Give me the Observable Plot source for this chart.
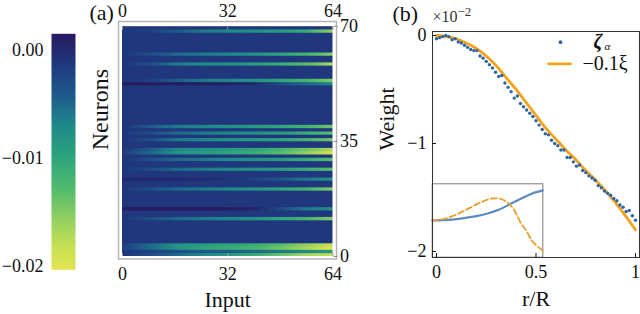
<!DOCTYPE html>
<html><head><meta charset="utf-8">
<script src="https://cdn.jsdelivr.net/npm/d3@7"></script>
<script src="https://cdn.jsdelivr.net/npm/@observablehq/plot@0.6"></script>
<style>
html,body{margin:0;padding:0;background:#fff;}
#wrap{position:relative;width:640px;height:314px;overflow:hidden;background:#fff;}
#wrap svg{position:absolute;left:0;top:0;}
</style></head><body><div id="wrap"></div>
<script>
// ---------- Panel (a): colour scale ----------
const colorValues = [-0.0203, -0.018, -0.015, -0.0125, -0.0095, -0.007, -0.0045, -0.0015, 0.0015];
const colorHexes  = ["#e4e44f", "#c4df55", "#84cc63", "#4cb96e", "#2aa07f", "#1f8a8a", "#1e5f8c", "#1f3a80", "#271a5e"];
const colorbarTicks = [0, -0.01, -0.02];

// ---------- Panel (a): heatmap (weights per neuron, sampled at input knots) ----------
const inputTicks = [0, 32, 64];
const neuronTicks = [0, 35, 70];
const nNeurons = 70;
const knotInputs = [0, 8, 16, 24, 32, 40, 48, 56, 64];
const baseWeight = -0.0012;
const stripeRows = [68, 61, 58, 53, 52, 39, 37, 35, 32, 31, 29, 26, 23, 20, 14, 11, 3, 2, 1, 0];
const stripeProfiles = [
  [-0.0012, -0.002, -0.004, -0.006, -0.007, -0.008, -0.009, -0.011, -0.016],
  [-0.0012, -0.003, -0.005, -0.006, -0.007, -0.008, -0.010, -0.012, -0.015],
  [-0.0012, -0.003, -0.006, -0.007, -0.008, -0.009, -0.011, -0.013, -0.017],
  [-0.0012, -0.002, -0.004, -0.006, -0.007, -0.008, -0.010, -0.012, -0.015],
  [0.0012, 0.0012, 0.0012, 0.0010, 0.0008, 0.0000, -0.003, -0.005, -0.007],
  [-0.0012, -0.004, -0.006, -0.007, -0.008, -0.009, -0.010, -0.012, -0.014],
  [-0.0012, -0.003, -0.005, -0.006, -0.007, -0.008, -0.009, -0.011, -0.013],
  [-0.0012, -0.003, -0.006, -0.007, -0.008, -0.009, -0.010, -0.012, -0.014],
  [-0.0012, -0.004, -0.007, -0.008, -0.009, -0.010, -0.012, -0.014, -0.017],
  [-0.002, -0.005, -0.008, -0.009, -0.010, -0.011, -0.013, -0.016, -0.020],
  [-0.0012, -0.003, -0.005, -0.006, -0.007, -0.008, -0.009, -0.011, -0.013],
  [-0.0012, -0.003, -0.005, -0.006, -0.007, -0.008, -0.009, -0.011, -0.013],
  [0.0003, 0.0003, 0.0002, 0.0000, -0.001, -0.002, -0.004, -0.006, -0.008],
  [-0.0012, -0.003, -0.005, -0.006, -0.007, -0.008, -0.010, -0.012, -0.015],
  [0.0012, 0.0012, 0.0014, 0.0014, 0.0012, 0.0005, -0.003, -0.006, -0.008],
  [-0.0012, -0.003, -0.005, -0.006, -0.007, -0.008, -0.010, -0.012, -0.015],
  [-0.002, -0.005, -0.008, -0.009, -0.010, -0.011, -0.013, -0.016, -0.019],
  [-0.002, -0.005, -0.008, -0.010, -0.011, -0.012, -0.014, -0.017, -0.020],
  [-0.0012, -0.002, -0.003, -0.004, -0.004, -0.005, -0.006, -0.007, -0.009],
  [-0.001, -0.003, -0.005, -0.007, -0.009, -0.011, -0.014, -0.017, -0.018]
];

// ---------- Panel (b): main curves ----------
const rTicks = [0, 0.5, 1];
const weightTicks = [0, -1, -2];
const xiR = [0, 0.05, 0.1, 0.15, 0.2, 0.25, 0.3, 0.35, 0.4, 0.45, 0.5, 0.55, 0.6, 0.65, 0.7, 0.75, 0.8, 0.85, 0.9, 0.95, 1.0];
const xiW = [0, -0.01, -0.03, -0.07, -0.12, -0.19, -0.28, -0.39, -0.50, -0.62, -0.74, -0.86, -0.96, -1.06, -1.15, -1.25, -1.34, -1.44, -1.55, -1.67, -1.80];
const zetaW = [-0.03, -0.02, -0.01, 0.00, -0.01, -0.04, -0.03, -0.06, -0.07, -0.09, -0.11, -0.13, -0.14, -0.14, -0.19, -0.21,
  -0.24, -0.27, -0.30, -0.34, -0.38, -0.37, -0.44, -0.48, -0.52, -0.58, -0.56, -0.63, -0.66, -0.69, -0.72, -0.75,
  -0.79, -0.83, -0.87, -0.91, -0.92, -0.97, -1.00, -1.02, -1.06, -1.06, -1.13, -1.13, -1.17, -1.21, -1.20, -1.25,
  -1.27, -1.30, -1.32, -1.34, -1.39, -1.41, -1.44, -1.46, -1.48, -1.51, -1.53, -1.57, -1.59, -1.63, -1.62, -1.67, -1.71];

// ---------- Panel (b): inset ----------
const insetR = [0, 0.1, 0.2, 0.3, 0.4, 0.5, 0.6, 0.7, 0.8, 0.9, 1.0];
const insetBlue = [0.50, 0.505, 0.515, 0.535, 0.56, 0.595, 0.645, 0.72, 0.795, 0.865, 0.91];
const insetOrangeR = [0, 0.1, 0.2, 0.3, 0.4, 0.5, 0.55, 0.6, 0.65, 0.7, 0.75, 0.8, 0.85, 0.9, 0.95, 1.0];
const insetOrange = [0.50, 0.52, 0.57, 0.64, 0.72, 0.785, 0.80, 0.80, 0.775, 0.72, 0.62, 0.47, 0.36, 0.23, 0.15, 0.09];

// ---------- build tables ----------
const repeat = 3;
const heatValues = [];
for (let row = 0; row < nNeurons; row++) {
  const k = stripeRows.indexOf(row);
  const profile = k >= 0 ? stripeProfiles[k] : knotInputs.map(() => baseWeight);
  for (let r = 0; r < repeat; r++) heatValues.push(...profile);
}
const halfStep = (knotInputs[1] - knotInputs[0]) / 2;
const xiData = xiR.map((r, i) => ({r, w: xiW[i]}));
const zetaData = zetaW.map((w, i) => ({r: i / (zetaW.length - 1), w}));
const insetBlueData = insetR.map((r, i) => ({r, v: insetBlue[i]}));
const insetOrangeData = insetOrangeR.map((r, i) => ({r, v: insetOrange[i]}));

const font = "'Liberation Serif', 'Times New Roman', serif";
const baseStyle = {fontFamily: font, fontSize: "18px", background: "transparent", overflow: "visible", color: "#111"};
const colorOpts = {type: "linear", domain: colorValues, range: colorHexes, interpolate: "rgb"};
const blue = "#2d64a5", orange = "#f5a21b";
const W = 640, H = 314;
const wrap = document.getElementById("wrap");
const intFmt = d3.format("~g");

// colour bar
wrap.append(Plot.plot({
  width: W, height: H, marginLeft: 51, marginRight: W - 75, marginTop: 33.3, marginBottom: H - 269.3,
  style: baseStyle,
  x: {domain: [0, 1], axis: null},
  y: {domain: [colorValues[0], colorValues[colorValues.length - 1]], axis: null},
  color: colorOpts,
  marks: [
    Plot.raster({fill: (x, y) => y, x1: 0, x2: 1, y1: colorValues[0], y2: colorValues[colorValues.length - 1], pixelSize: 1}),
    Plot.axisY(colorbarTicks, {anchor: "left", tickSize: 0, tickPadding: 8, tickFormat: d3.format(".2f"), label: null})
  ]
}));

// heatmap
wrap.append(Plot.plot({
  width: W, height: H, marginLeft: 122, marginRight: W - 332.5, marginTop: 25.7, marginBottom: H - 256,
  style: baseStyle,
  x: {domain: [0, 64], axis: null},
  y: {domain: [0, nNeurons], axis: null},
  color: colorOpts,
  marks: [
    Plot.raster(heatValues, {width: knotInputs.length, height: nNeurons * repeat,
      x1: knotInputs[0] - halfStep, x2: knotInputs[knotInputs.length - 1] + halfStep, y1: 0, y2: nNeurons, clip: true}),
    Plot.frame({stroke: "#b4b4b4", strokeWidth: 1.5, insetLeft: -4, insetRight: -3.5, insetTop: -4.7, insetBottom: -2.5}),
    Plot.axisX(inputTicks, {anchor: "top", tickSize: -3, tickPadding: 12, stroke: "#999", label: null}),
    Plot.axisX(inputTicks, {anchor: "bottom", tickSize: -3, tickPadding: 14, stroke: "#999", label: null}),
    Plot.axisY(neuronTicks, {anchor: "right", tickSize: 4, tickPadding: 3, stroke: "#888", label: null}),
    Plot.text(["Neurons"], {frameAnchor: "left", rotate: -90, dx: -22, dy: 9, fontSize: 24, lineAnchor: "middle", fill: "#111"}),
    Plot.text(["Input"], {frameAnchor: "bottom", dy: 43, fontSize: 22, lineAnchor: "middle", fill: "#111"}),
    Plot.text(["(a)"], {frameAnchor: "top-left", dx: -33, dy: -13, fontSize: 22, lineAnchor: "middle", fill: "#111"})
  ]
}));

// inset (drawn under the main panel so the main spines and ticks sit on top)
wrap.append(Plot.plot({
  width: W, height: H, marginLeft: 431.7, marginRight: W - 542.3, marginTop: 183.3, marginBottom: H - 256.7,
  style: baseStyle,
  x: {domain: [0, 1], axis: null},
  y: {domain: [0, 1], axis: null},
  marks: [
    Plot.frame({fill: "white", stroke: "#7a7a7a"}),
    Plot.line(insetBlueData, {x: "r", y: "v", stroke: "#5b8bc2", strokeWidth: 2.2, curve: "natural"}),
    Plot.line(insetOrangeData, {x: "r", y: "v", stroke: "#e9a028", strokeWidth: 1.8, strokeDasharray: "6,3", curve: "natural"})
  ]
}));

// panel (b)
const lineShape = {draw(context, l) { context.moveTo(0, 0); context.lineTo(0, -l); }};
wrap.append(Plot.plot({
  width: W, height: H, marginLeft: 432, marginRight: 1, marginTop: 31, marginBottom: H - 257,
  style: baseStyle,
  x: {domain: [-0.0201, 1.0201], axis: null},
  y: {domain: [-2.056, 0.037], axis: null},
  marks: [
    Plot.frame({stroke: "#333"}),
    Plot.line(xiData, {x: "r", y: "w", stroke: orange, strokeWidth: 2.8, curve: "monotone-x"}),
    Plot.dot(zetaData, {x: "r", y: "w", r: 1.7, fill: blue}),
    Plot.axisX(rTicks, {anchor: "bottom", tickSize: -4, tickPadding: 12, tickFormat: intFmt, label: null}),
    Plot.axisY(weightTicks, {anchor: "left", tickSize: -4, tickPadding: 10, tickFormat: intFmt, label: null}),
    Plot.text(["Weight"], {frameAnchor: "left", rotate: -90, dx: -46, dy: 6, fontSize: 22, lineAnchor: "middle", fill: "#111"}),
    Plot.text(["r/R"], {frameAnchor: "bottom", dy: 41, fontSize: 22, lineAnchor: "middle", fill: "#111"}),
    Plot.text(["(b)"], {frameAnchor: "top-left", dx: -40, dy: -18, fontSize: 22, lineAnchor: "middle", fill: "#111"}),
    Plot.text(["×10"], {frameAnchor: "top-left", dx: 0, dy: -15, fontSize: 16, textAnchor: "start", lineAnchor: "middle", fill: "#333"}),
    Plot.text(["−2"], {frameAnchor: "top-left", dx: 25, dy: -20, fontSize: 13, textAnchor: "start", lineAnchor: "middle", fill: "#333"}),
    Plot.dot([0], {frameAnchor: "top-right", dx: -79, dy: 10.7, r: 1.9, fill: blue}),
    Plot.text(["ζ"], {frameAnchor: "top-right", dx: -46, dy: 10, fontSize: 20, fontWeight: "bold", fontStyle: "italic", textAnchor: "start", lineAnchor: "middle", fill: "#111"}),
    Plot.text(["α"], {frameAnchor: "top-right", dx: -35, dy: 15, fontSize: 11, fontStyle: "italic", textAnchor: "start", lineAnchor: "middle", fill: "#111"}),
    Plot.vector([0], {frameAnchor: "top-right", dx: -91, dy: 32.3, length: 22, rotate: 90, anchor: "start", shape: lineShape, stroke: orange, strokeWidth: 2.8}),
    Plot.text(["−0.1ξ"], {frameAnchor: "top-right", dx: -57, dy: 32, fontSize: 20, textAnchor: "start", lineAnchor: "middle", fill: "#111"})
  ]
}));
</script></body></html>
